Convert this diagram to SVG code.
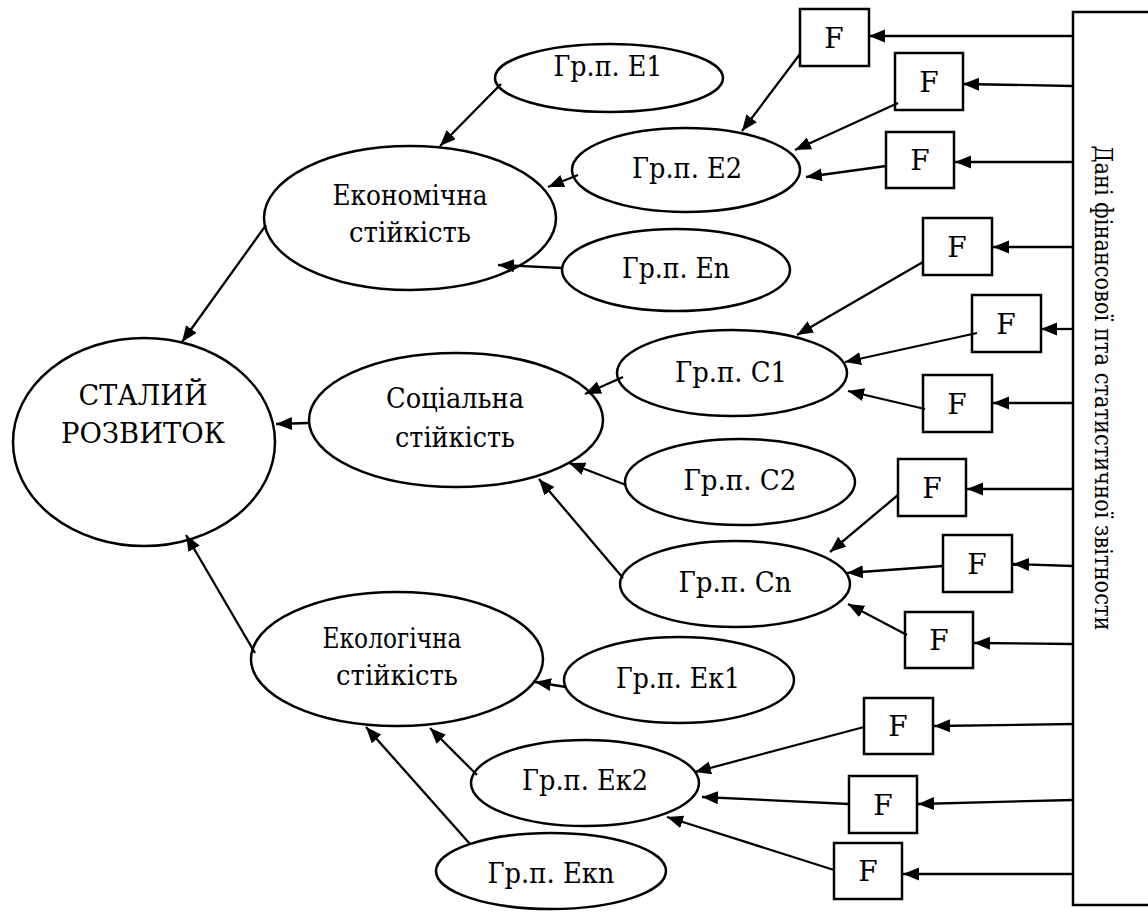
<svg xmlns="http://www.w3.org/2000/svg" width="1148" height="918" viewBox="0 0 1148 918">
<style>
.n{fill:#fff;stroke:#000;stroke-width:2.5}
text{font-family:'DejaVu Serif','Liberation Serif',serif;fill:#000;text-anchor:middle;font-size:28px}
.c line{stroke:#000;stroke-width:2.3;marker-end:url(#a)}
</style>
<defs>
<marker id="a" markerUnits="userSpaceOnUse" markerWidth="17" markerHeight="14" refX="16" refY="6.5" orient="auto">
<path d="M0,0 L16,6.5 L0,13 z" fill="#000"/>
</marker>
</defs>
<rect width="1148" height="918" fill="#fff"/>

<g id="source">
<path d="M1160,12 H1073 V905 H1160" fill="none" stroke="#000" stroke-width="2.5"/>
<text style="font-size:24px" textLength="485" lengthAdjust="spacingAndGlyphs" transform="translate(1095,388) rotate(90)">Дані фінансової пта статистичної звітности</text>
</g>

<g id="stalyi"><ellipse class="n" cx="144" cy="442" rx="131" ry="104"/>
<text x="143" y="405" textLength="129" lengthAdjust="spacingAndGlyphs">СТАЛИЙ</text><text x="143" y="443" textLength="164" lengthAdjust="spacingAndGlyphs">РОЗВИТОК</text></g>

<g id="econ"><ellipse class="n" cx="410" cy="218" rx="146" ry="72"/>
<text x="410" y="205" textLength="155" lengthAdjust="spacingAndGlyphs">Економічна</text><text x="410" y="242" textLength="122" lengthAdjust="spacingAndGlyphs">стійкість</text></g>

<g id="soc"><ellipse class="n" cx="456" cy="420" rx="147" ry="67"/>
<text x="455" y="408" textLength="138" lengthAdjust="spacingAndGlyphs">Соціальна</text><text x="455" y="447" textLength="120" lengthAdjust="spacingAndGlyphs">стійкість</text></g>

<g id="ecol"><ellipse class="n" cx="397" cy="659" rx="146" ry="67"/>
<text x="392" y="648" textLength="139" lengthAdjust="spacingAndGlyphs">Екологічна</text><text x="397" y="685" textLength="122" lengthAdjust="spacingAndGlyphs">стійкість</text></g>

<g id="e1"><ellipse class="n" cx="609" cy="78" rx="114" ry="34"/><text x="608" y="76" textLength="109" lengthAdjust="spacingAndGlyphs">Гр.п. E1</text></g>
<g id="e2"><ellipse class="n" cx="686" cy="170" rx="114" ry="42"/><text x="687" y="178" textLength="110" lengthAdjust="spacingAndGlyphs">Гр.п. E2</text></g>
<g id="en"><ellipse class="n" cx="676" cy="270" rx="114" ry="41"/><text x="676" y="278" textLength="108" lengthAdjust="spacingAndGlyphs">Гр.п. En</text></g>
<g id="c1"><ellipse class="n" cx="732" cy="373" rx="115" ry="43"/><text x="731" y="382" textLength="112" lengthAdjust="spacingAndGlyphs">Гр.п. C1</text></g>
<g id="c2"><ellipse class="n" cx="740" cy="482" rx="115" ry="43"/><text x="740" y="490" textLength="113" lengthAdjust="spacingAndGlyphs">Гр.п. C2</text></g>
<g id="cn"><ellipse class="n" cx="735" cy="584" rx="115" ry="43"/><text x="735" y="592" textLength="113" lengthAdjust="spacingAndGlyphs">Гр.п. Cn</text></g>
<g id="ek1"><ellipse class="n" cx="679" cy="680" rx="115" ry="43"/><text x="678" y="688" textLength="124" lengthAdjust="spacingAndGlyphs">Гр.п. Ек1</text></g>
<g id="ek2"><ellipse class="n" cx="585" cy="783" rx="114" ry="43"/><text x="585" y="790" textLength="126" lengthAdjust="spacingAndGlyphs">Гр.п. Ек2</text></g>
<g id="ekn"><ellipse class="n" cx="551" cy="871" rx="115" ry="38"/><text x="551" y="883" textLength="127" lengthAdjust="spacingAndGlyphs">Гр.п. Екn</text></g>

<g id="f1"><rect class="n" x="800" y="9" width="69" height="57"/><text x="834" y="48">F</text></g>
<g id="f2"><rect class="n" x="895" y="53" width="68" height="57"/><text x="929" y="92">F</text></g>
<g id="f3"><rect class="n" x="886" y="132" width="68" height="56"/><text x="920" y="170">F</text></g>
<g id="f4"><rect class="n" x="923" y="218" width="69" height="57"/><text x="957" y="257">F</text></g>
<g id="f5"><rect class="n" x="972" y="295" width="69" height="57"/><text x="1006" y="334">F</text></g>
<g id="f6"><rect class="n" x="923" y="375" width="69" height="57"/><text x="957" y="414">F</text></g>
<g id="f7"><rect class="n" x="898" y="459" width="68" height="57"/><text x="932" y="498">F</text></g>
<g id="f8"><rect class="n" x="943" y="535" width="69" height="57"/><text x="977" y="574">F</text></g>
<g id="f9"><rect class="n" x="905" y="612" width="68" height="56"/><text x="939" y="650">F</text></g>
<g id="f10"><rect class="n" x="864" y="698" width="69" height="56"/><text x="898" y="736">F</text></g>
<g id="f11"><rect class="n" x="849" y="776" width="68" height="57"/><text x="883" y="815">F</text></g>
<g id="f12"><rect class="n" x="834" y="843" width="68" height="56"/><text x="868" y="881">F</text></g>

<g id="connectors" class="c">
<line x1="266" y1="225" x2="182" y2="342"/>
<line x1="309" y1="423" x2="276" y2="424"/>
<line x1="255" y1="653" x2="186" y2="535"/>
<line x1="501" y1="84" x2="440" y2="146"/>
<line x1="578" y1="175" x2="548" y2="187"/>
<line x1="562" y1="268" x2="498" y2="265"/>
<line x1="623" y1="377" x2="585" y2="394"/>
<line x1="626" y1="485" x2="569" y2="463"/>
<line x1="623" y1="578" x2="539" y2="479"/>
<line x1="566" y1="687" x2="535" y2="682"/>
<line x1="477" y1="775" x2="430" y2="728"/>
<line x1="470" y1="844" x2="366" y2="727"/>
<line x1="800" y1="54" x2="742" y2="131"/>
<line x1="898" y1="103" x2="795" y2="150"/>
<line x1="886" y1="166" x2="806" y2="177"/>
<line x1="923" y1="262" x2="797" y2="335"/>
<line x1="977" y1="333" x2="845" y2="362"/>
<line x1="925" y1="409" x2="848" y2="391"/>
<line x1="898" y1="495" x2="830" y2="552"/>
<line x1="943" y1="566" x2="847" y2="573"/>
<line x1="907" y1="635" x2="848" y2="604"/>
<line x1="864" y1="727" x2="695" y2="772"/>
<line x1="849" y1="804" x2="702" y2="797"/>
<line x1="834" y1="870" x2="667" y2="817"/>
<line x1="1073" y1="36" x2="869" y2="36"/>
<line x1="1073" y1="86" x2="963" y2="84"/>
<line x1="1073" y1="162" x2="955" y2="162"/>
<line x1="1073" y1="247" x2="993" y2="247"/>
<line x1="1073" y1="329" x2="1041" y2="329"/>
<line x1="1073" y1="403" x2="993" y2="403"/>
<line x1="1073" y1="489" x2="967" y2="489"/>
<line x1="1073" y1="566" x2="1013" y2="564"/>
<line x1="1073" y1="644" x2="974" y2="643"/>
<line x1="1073" y1="724" x2="934" y2="726"/>
<line x1="1073" y1="800" x2="918" y2="804"/>
<line x1="1073" y1="874" x2="903" y2="874"/>
</g>
</svg>
